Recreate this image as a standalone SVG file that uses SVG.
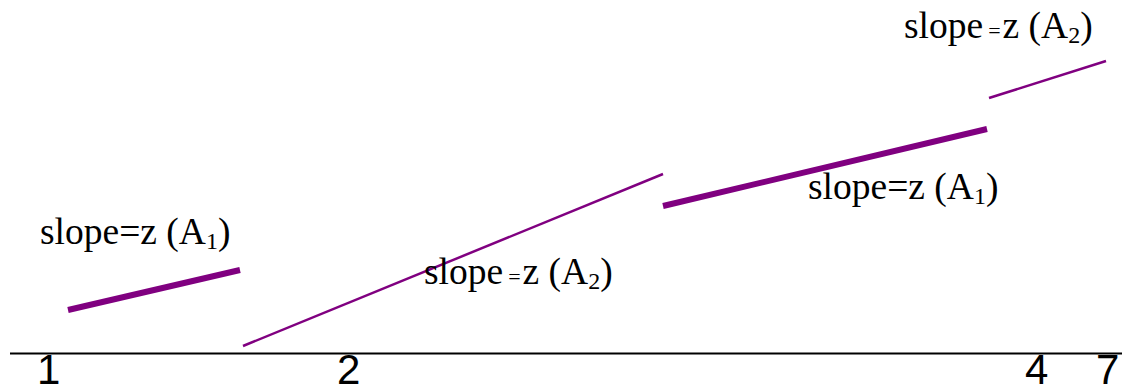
<svg xmlns="http://www.w3.org/2000/svg" width="1122" height="390" viewBox="0 0 1122 390">
<style>
.lbl{font-family:"Liberation Serif","Times New Roman",serif;font-size:37.5px;fill:#000}
.sub{font-size:24px}
.eq{font-size:22px}
.num{font-family:"Liberation Sans",Arial,sans-serif;font-size:42px;fill:#000}
.thick{stroke:#800080;stroke-width:6;fill:none}
.thin{stroke:#800080;stroke-width:2.5;fill:none}
</style>
<rect width="1122" height="390" fill="#fff"/>
<g id="connectors">
<line x1="10" y1="353.5" x2="1122" y2="353.5" stroke="#000" stroke-width="2"/>
<line class="thick" x1="68" y1="310" x2="240" y2="270"/>
<line class="thin" x1="243" y1="346" x2="663" y2="174"/>
<line class="thick" x1="663" y1="206" x2="987" y2="129"/>
<line class="thin" x1="989" y1="98" x2="1106" y2="61"/>
</g>
<g id="label-a1-left"><text class="lbl" x="40" y="244">slope=z (A<tspan class="sub" dy="5">1</tspan><tspan dy="-5">)</tspan></text></g>
<g id="label-a2-mid"><text class="lbl" x="424" y="284">slope<tspan class="eq" dx="5">=</tspan><tspan dx="2">z (A</tspan><tspan class="sub" dy="5">2</tspan><tspan dy="-5">)</tspan></text></g>
<g id="label-a1-right"><text class="lbl" x="808" y="199">slope=z (A<tspan class="sub" dy="5">1</tspan><tspan dy="-5">)</tspan></text></g>
<g id="label-a2-top"><text class="lbl" x="904" y="38">slope<tspan class="eq" dx="5">=</tspan><tspan dx="2">z (A</tspan><tspan class="sub" dy="5">2</tspan><tspan dy="-5">)</tspan></text></g>
<g id="tick-labels">
<text class="num" x="37" y="384">1</text>
<text class="num" x="337" y="384">2</text>
<text class="num" x="1025" y="384">4</text>
<text class="num" x="1096" y="384">7</text>
</g>
</svg>
